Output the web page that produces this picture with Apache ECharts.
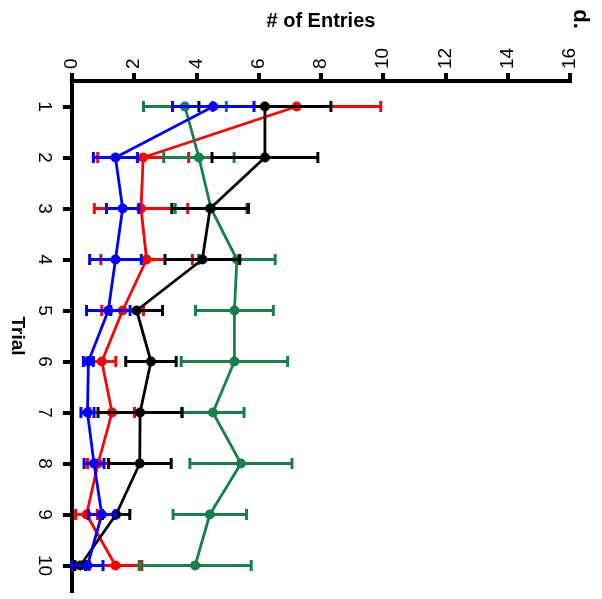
<!DOCTYPE html>
<html>
<head>
<meta charset="utf-8">
<script src="https://cdn.jsdelivr.net/npm/echarts@6/dist/echarts.min.js"></script>
<style>
  html, body { margin: 0; padding: 0; background: #ffffff; }
  #chart { width: 602px; height: 599px; }
</style>
</head>
<body>
<div id="chart"></div>
<script>
// Trials (category axis) and entry-count ticks (value axis)
const trials = ['1', '2', '3', '4', '5', '6', '7', '8', '9', '10'];
const entryTicks = [0, 2, 4, 6, 8, 10, 12, 14, 16];

// Mean number of entries per trial and its error (±) for each group
const blackMean = [6.20, 6.20, 4.44, 4.19, 2.08, 2.54, 2.19, 2.18, 1.42, 0.27];
const blackErr  = [2.12, 1.70, 1.23, 1.20, 0.83, 0.81, 1.35, 1.01, 0.44, 0.17];

const redMean = [7.22, 2.29, 2.22, 2.40, 1.63, 0.96, 1.29, 0.84, 0.47, 1.40];
const redErr  = [2.70, 1.46, 1.50, 1.47, 0.67, 0.45, 0.72, 0.34, 0.35, 0.84];

const blueMean = [4.54, 1.40, 1.63, 1.40, 1.17, 0.53, 0.50, 0.71, 0.96, 0.50];
const blueErr  = [1.31, 0.71, 0.52, 0.83, 0.70, 0.16, 0.21, 0.32, 0.43, 0.50];

const greenMean = [3.63, 4.08, 4.47, 5.30, 5.22, 5.22, 4.53, 5.43, 4.43, 3.96];
const greenErr  = [1.33, 1.13, 1.15, 1.23, 1.25, 1.71, 1.00, 1.64, 1.18, 1.80];

const FONT = '"Liberation Sans", Arial, Helvetica, sans-serif';
const GREEN = '#17804a';

// Horizontal error bars with end caps, drawn through the axes' coordinate system
function errorBars(name, means, errs, color, z) {
  return {
    type: 'custom',
    name: name + ' error',
    z: z,
    silent: true,
    data: means.map((m, i) => [i, m - errs[i], m + errs[i]]),
    encode: { x: [1, 2], y: 0 },
    renderItem: function (params, api) {
      const cat = api.value(0);
      const lo = api.coord([api.value(1), cat]);
      const hi = api.coord([api.value(2), cat]);
      const h = 5.5;
      const bar = { stroke: color, lineWidth: 2.8, fill: null };
      const cap = { stroke: color, lineWidth: 3, fill: null };
      return {
        type: 'group',
        children: [
          { type: 'line', shape: { x1: lo[0], y1: lo[1], x2: hi[0], y2: hi[1] }, style: bar },
          { type: 'line', shape: { x1: lo[0], y1: lo[1] - h, x2: lo[0], y2: lo[1] + h }, style: cap },
          { type: 'line', shape: { x1: hi[0], y1: hi[1] - h, x2: hi[0], y2: hi[1] + h }, style: cap }
        ]
      };
    }
  };
}

function meanLine(name, means, color, z) {
  return {
    type: 'line',
    name: name,
    z: z,
    data: means.map((m, i) => [m, trials[i]]),
    symbol: 'circle',
    symbolSize: 10,
    showSymbol: true,
    lineStyle: { color: color, width: 2.8 },
    itemStyle: { color: color, borderWidth: 0 },
    emphasis: { disabled: true },
    animation: false
  };
}

const chart = echarts.init(document.getElementById('chart'), null, { renderer: 'canvas' });

chart.setOption({
  animation: false,
  backgroundColor: '#ffffff',
  textStyle: { fontFamily: FONT },
  grid: { left: 61, right: 32, top: 81, bottom: 8, containLabel: false },
  xAxis: {
    type: 'value',
    position: 'top',
    min: entryTicks[0],
    max: entryTicks[entryTicks.length - 1],
    interval: entryTicks[1] - entryTicks[0],
    name: '# of Entries',
    nameLocation: 'middle',
    nameGap: 50,
    nameTextStyle: { fontFamily: FONT, fontSize: 20, fontWeight: 'bold', color: '#000' },
    axisLine: { show: true, lineStyle: { color: '#000', width: 4, cap: 'square' } },
    axisTick: { show: true, length: 8, lineStyle: { color: '#000', width: 4 } },
    axisLabel: { rotate: -90, margin: 12, fontSize: 19, color: '#000', fontFamily: FONT },
    splitLine: { show: false }
  },
  yAxis: {
    type: 'category',
    data: trials,
    inverse: true,
    boundaryGap: true,
    name: 'Trial',
    nameLocation: 'middle',
    nameGap: 38,
    nameRotate: -90,
    nameTextStyle: { fontFamily: FONT, fontSize: 19, fontWeight: 'bold', color: '#000' },
    axisLine: { show: true, lineStyle: { color: '#000', width: 4, cap: 'square' } },
    axisTick: { show: true, alignWithLabel: true, length: 9, lineStyle: { color: '#000', width: 4 } },
    axisLabel: { rotate: -90, margin: 18, fontSize: 19, color: '#000', fontFamily: FONT },
    splitLine: { show: false }
  },
  graphic: [{
    type: 'text',
    x: 580,
    y: 19,
    rotation: -Math.PI / 2,
    style: {
      text: 'd.',
      fill: '#000',
      font: 'bold 22px ' + FONT,
      align: 'center',
      verticalAlign: 'middle',
      textAlign: 'center',
      textVerticalAlign: 'middle'
    }
  }],
  series: [
    errorBars('red', redMean, redErr, '#ff0000', 2),
    meanLine('red', redMean, '#ff0000', 3),
    errorBars('green', greenMean, greenErr, GREEN, 4),
    meanLine('green', greenMean, GREEN, 5),
    errorBars('black', blackMean, blackErr, '#000000', 6),
    meanLine('black', blackMean, '#000000', 7),
    errorBars('blue', blueMean, blueErr, '#0000ff', 8),
    meanLine('blue', blueMean, '#0000ff', 9)
  ]
});
</script>
</body>
</html>
